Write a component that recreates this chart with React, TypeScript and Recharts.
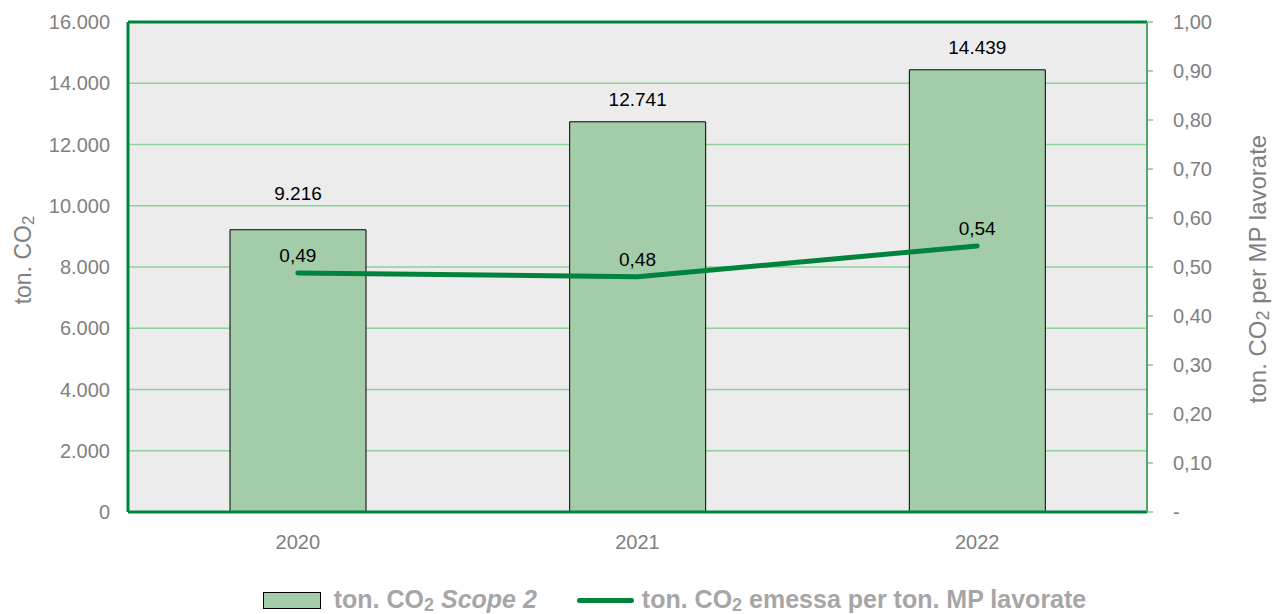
import React from "react";
import {
    ComposedChart,
    Bar,
    Line,
    XAxis,
    YAxis,
    CartesianGrid,
    LabelList,
    ReferenceLine,
    Legend
} from "recharts";

// values
const years = ["2020", "2021", "2022"];
const scope2Tons = [9216, 12741, 14439];
const co2PerTonMP = [0.488, 0.48, 0.543];
const leftTicks = [0, 2000, 4000, 6000, 8000, 10000, 12000, 14000, 16000];
const rightTicks = [0, 0.1, 0.2, 0.3, 0.4, 0.5, 0.6, 0.7, 0.8, 0.9, 1.0];

const data = years.map((y, i) => ({
    year: y,
    scope2: scope2Tons[i],
    ratio: co2PerTonMP[i]
}));

const FONT = "'Liberation Sans', Arial, Helvetica, sans-serif";
const DARK_GREEN = "#00843d";
const GRAY = "#7f7f7f";

const fmtThousands = (v: number) =>
    String(Math.round(v)).replace(/\B(?=(\d{3})+(?!\d))/g, ".");
const fmtRatio = (v: number) => (v === 0 ? "-" : v.toFixed(2).replace(".", ","));

// Excel nudged the first bar label up so it doesn't hit the line label
const barLabelLift = [30, 16, 16];

const BarValueLabel = (props: any) => {
    const { x, y, width, value, index } = props;
    return (
        <text
            x={x + width / 2}
            y={y - barLabelLift[index]}
            textAnchor="middle"
            fill="#000"
            fontSize={19}
            fontFamily={FONT}
        >
            {fmtThousands(value)}
        </text>
    );
};

const LineValueLabel = (props: any) => {
    const { x, y, value } = props;
    return (
        <text x={x} y={y - 11} textAnchor="middle" fill="#000" fontSize={19} fontFamily={FONT}>
            {fmtRatio(value)}
        </text>
    );
};

const LeftAxisLabel = () => (
    <text
        transform="translate(31, 260) rotate(-90)"
        textAnchor="middle"
        fill={GRAY}
        fontSize={23}
        fontFamily={FONT}
    >
        ton. CO<tspan fontSize={17} dy={3}>2</tspan>
    </text>
);

const RightAxisLabel = () => (
    <text
        transform="translate(1266, 269) rotate(-90)"
        textAnchor="middle"
        fill={GRAY}
        fontSize={24}
        fontFamily={FONT}
    >
        ton. CO<tspan fontSize={18} dy={3}>2</tspan>
        <tspan dy={-3}> per MP lavorate</tspan>
    </text>
);

const legendText: React.CSSProperties = {
    color: "#a6a6a6",
    fontWeight: "bold",
    fontSize: 25,
    fontFamily: FONT,
    whiteSpace: "nowrap"
};

const ChartLegend = () => (
    <div
        style={{
            height: 52,
            display: "flex",
            alignItems: "flex-end",
            justifyContent: "center",
            paddingLeft: 76,
            boxSizing: "border-box"
        }}
    >
        <div style={{ display: "flex", alignItems: "center", marginRight: 40, position: "relative", top: 2 }}>
            <span
                style={{
                    display: "inline-block",
                    width: 56,
                    height: 15,
                    background: "#a3cca8",
                    border: "1px solid #000",
                    marginRight: 13
                }}
            />
            <span style={legendText}>
                ton. CO<sub style={{ fontSize: 18, verticalAlign: "-3px" }}>2</sub>{" "}
                <i>Scope 2</i>
            </span>
        </div>
        <div style={{ display: "flex", alignItems: "center", position: "relative", top: 2 }}>
            <span
                style={{
                    display: "inline-block",
                    width: 57,
                    height: 5,
                    borderRadius: 3,
                    background: DARK_GREEN,
                    marginRight: 8
                }}
            />
            <span style={legendText}>
                ton. CO<sub style={{ fontSize: 18, verticalAlign: "-3px" }}>2</sub> emessa per ton. MP
                lavorate
            </span>
        </div>
    </div>
);

export default function App() {
    return (
        <div style={{ position: "absolute", left: 0, top: 0, width: 1273, height: 614, background: "#fff" }}>
            <ComposedChart
                width={1273}
                height={614}
                data={data}
                margin={{ top: 22, right: 0, left: 0, bottom: 0 }}
            >
                <CartesianGrid
                    horizontal={true}
                    vertical={false}
                    stroke="#8fcf9a"
                    strokeWidth={1.5}
                    fill="#ececec"
                    yAxisId="left"
                />
                <XAxis
                    dataKey="year"
                    height={50}
                    axisLine={{ stroke: DARK_GREEN, strokeWidth: 3 }}
                    tickLine={false}
                    tickMargin={17}
                    tick={{ fill: GRAY, fontSize: 20, fontFamily: FONT }}
                />
                <YAxis
                    yAxisId="left"
                    width={128}
                    domain={[0, 16000]}
                    ticks={leftTicks}
                    interval={0}
                    tickFormatter={fmtThousands}
                    axisLine={{ stroke: DARK_GREEN, strokeWidth: 3 }}
                    tickLine={false}
                    tickSize={8}
                    tickMargin={10}
                    tick={{ fill: GRAY, fontSize: 20, fontFamily: FONT }}
                    label={<LeftAxisLabel />}
                />
                <YAxis
                    yAxisId="right"
                    orientation="right"
                    width={126}
                    domain={[0, 1]}
                    ticks={rightTicks}
                    interval={0}
                    tickFormatter={fmtRatio}
                    axisLine={{ stroke: "#4fa56a", strokeWidth: 2 }}
                    tickLine={{ stroke: "#4fa56a", strokeWidth: 1 }}
                    tickSize={6}
                    tickMargin={20}
                    tick={{ fill: GRAY, fontSize: 20, fontFamily: FONT, textAnchor: "start" }}
                    label={<RightAxisLabel />}
                />
                <ReferenceLine yAxisId="left" y={16000} stroke={DARK_GREEN} strokeWidth={3} />
                <Bar
                    yAxisId="left"
                    dataKey="scope2"
                    fill="#a3cca8"
                    stroke="#000"
                    strokeWidth={1}
                    barSize={136}
                    isAnimationActive={false}
                >
                    <LabelList dataKey="scope2" content={<BarValueLabel />} />
                </Bar>
                <Line
                    yAxisId="right"
                    dataKey="ratio"
                    stroke={DARK_GREEN}
                    strokeWidth={5}
                    strokeLinecap="round"
                    dot={false}
                    activeDot={false}
                    isAnimationActive={false}
                >
                    <LabelList dataKey="ratio" content={<LineValueLabel />} />
                </Line>
                <Legend verticalAlign="bottom" content={<ChartLegend />} />
            </ComposedChart>
        </div>
    );
}
